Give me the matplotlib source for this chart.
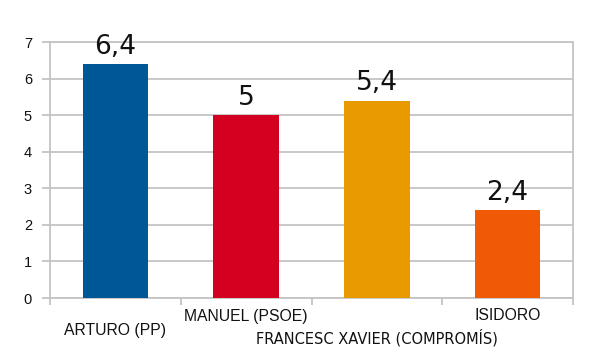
import matplotlib
matplotlib.use("Agg")
import matplotlib.pyplot as plt
from matplotlib.transforms import blended_transform_factory, offset_copy

categories = ["ARTURO (PP)", "MANUEL (PSOE)", "FRANCESC XAVIER (COMPROMÍS)", "ISIDORO"]
values = [6.4, 5, 5.4, 2.4]
value_labels = ["6,4", "5", "5,4", "2,4"]
colors = ["#005797", "#d4001f", "#e89a00", "#f05a05"]
yticks = [0, 1, 2, 3, 4, 5, 6, 7]

label_pads = [33, 18, 40, 18]  # px below axis (staggered labels)
label_fonts = ["Liberation Sans", "Liberation Sans", "DejaVu Sans", "Liberation Sans"]
label_sizes = [11.3, 11.3, 10.5, 11.3]

fig = plt.figure(figsize=(5.96, 3.54), dpi=100)
ax = fig.add_axes([50/596, 56/354, 523/596, 256/354])

x = list(range(len(categories)))
ax.bar(x, values, width=0.5, color=colors, zorder=3)
ax.set_xlim(-0.5, len(categories) - 0.5)
ax.set_ylim(0, 7)
ax.set_yticks(yticks)
ax.set_yticklabels([str(t) for t in yticks], fontfamily="Liberation Sans", fontsize=10.5, color="#111111")
ax.yaxis.grid(True, color="#c4c4c4", linewidth=1.3, zorder=0)
ax.tick_params(axis="y", length=6, width=1.3, color="#c4c4c4", pad=7)

# x ticks at category boundaries
ax.set_xticks([i - 0.5 for i in range(len(categories) + 1)])
ax.set_xticklabels([])
ax.tick_params(axis="x", length=5, width=1.3, color="#c4c4c4")

for s in ax.spines.values():
    s.set_color("#c4c4c4")
    s.set_linewidth(1.3)

trans = blended_transform_factory(ax.transData, ax.transAxes)
for i, (cat, pad, fam, fs) in enumerate(zip(categories, label_pads, label_fonts, label_sizes)):
    t = offset_copy(trans, fig=fig, x=0, y=-pad * 72 / 100, units="points")
    ax.text(i, 0, cat, transform=t, ha="center", va="center",
            fontfamily=fam, fontsize=fs, color="#111111", clip_on=False)

for i, (v, lab) in enumerate(zip(values, value_labels)):
    ax.annotate(lab, (i, v), xytext=(0, 7.5), textcoords="offset points",
                ha="center", va="baseline", fontfamily="DejaVu Sans",
                fontsize=19, color="#111111", zorder=4)

fig.savefig("out.png", dpi=100)
